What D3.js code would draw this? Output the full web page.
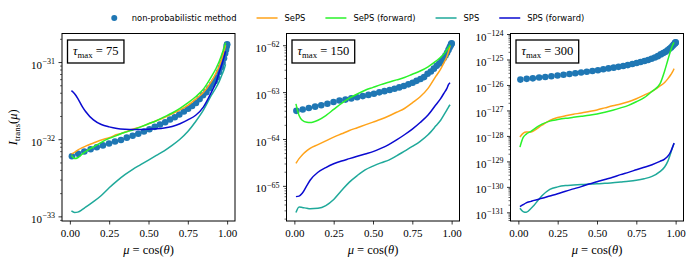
<!DOCTYPE html>
<html>
<head>
<meta charset="utf-8">
<script src="https://cdn.jsdelivr.net/npm/d3@7"></script>
<style>
  body { margin: 0; background: #fff; }
  svg { display: block; }
</style>
</head>
<body>
<div id="app"></div>
<script>
// --- data (log10 of I_trans) ---
const muDots = [0.013,0.053,0.092,0.132,0.171,0.210,0.249,0.287,0.325,0.362,0.399,0.435,0.471,0.506,0.540,0.573,0.606,0.637,0.667,0.696,0.725,0.752,0.777,0.802,0.825,0.847,0.868,0.887,0.905,0.921,0.936,0.949,0.961,0.971,0.980,0.987,0.993,0.997,0.999,1.000];
const muLine = [0.01,0.03,0.05,0.08,0.1,0.15,0.2,0.25,0.3,0.35,0.4,0.45,0.5,0.55,0.6,0.65,0.7,0.75,0.8,0.85,0.9,0.93,0.95,0.97,0.98,0.99];

const tauMax = [75, 150, 300];
const yDomains = [[-33.06, -30.63], [-65.75, -61.75], [-131.34, -123.98]];
const xTicks = [0, 0.25, 0.5, 0.75, 1.0];

// tau = 75
const p1Dots = [-32.22,-32.19,-32.16,-32.13,-32.105,-32.08,-32.055,-32.03,-32.01,-31.98,-31.955,-31.93,-31.90,-31.87,-31.84,-31.81,-31.78,-31.745,-31.715,-31.68,-31.64,-31.605,-31.57,-31.53,-31.48,-31.43,-31.39,-31.34,-31.29,-31.25,-31.20,-31.13,-31.07,-31.01,-30.95,-30.89,-30.84,-30.80,-30.78,-30.77];
const p1SePS  = [-32.19,-32.17,-32.14,-32.11,-32.09,-32.05,-32.01,-31.98,-31.94,-31.91,-31.87,-31.84,-31.80,-31.76,-31.72,-31.67,-31.62,-31.56,-31.48,-31.39,-31.25,-31.14,-31.05,-30.93,-30.86,-30.78];
const p1SePSf = [-32.21,-32.25,-32.24,-32.19,-32.16,-32.10,-32.04,-31.99,-31.95,-31.91,-31.88,-31.84,-31.80,-31.76,-31.71,-31.66,-31.60,-31.53,-31.45,-31.35,-31.19,-31.08,-30.99,-30.88,-30.82,-30.75];
const p1SPS   = [-32.93,-32.95,-32.945,-32.91,-32.88,-32.81,-32.73,-32.63,-32.54,-32.46,-32.39,-32.33,-32.27,-32.21,-32.15,-32.08,-32.00,-31.90,-31.77,-31.62,-31.43,-31.33,-31.25,-31.15,-31.10,-31.03];
const p1SPSf  = [-31.37,-31.41,-31.47,-31.58,-31.64,-31.75,-31.81,-31.84,-31.86,-31.87,-31.875,-31.875,-31.87,-31.865,-31.855,-31.835,-31.80,-31.75,-31.69,-31.58,-31.39,-31.26,-31.13,-31.01,-30.94,-30.86];

// tau = 150
const p2Dots = [-63.40,-63.37,-63.34,-63.31,-63.28,-63.25,-63.21,-63.18,-63.16,-63.135,-63.11,-63.085,-63.06,-63.035,-63.005,-62.98,-62.955,-62.93,-62.90,-62.87,-62.835,-62.80,-62.76,-62.72,-62.68,-62.61,-62.56,-62.50,-62.44,-62.39,-62.34,-62.28,-62.22,-62.16,-62.10,-62.05,-62.01,-61.98,-61.97,-61.96];
const p2SePS  = [-64.52,-64.42,-64.34,-64.25,-64.20,-64.12,-64.04,-63.96,-63.89,-63.82,-63.76,-63.70,-63.64,-63.58,-63.51,-63.43,-63.35,-63.23,-63.10,-62.92,-62.66,-62.51,-62.38,-62.24,-62.14,-62.01];
const p2SePSf = [-63.25,-63.50,-63.60,-63.645,-63.65,-63.60,-63.50,-63.37,-63.24,-63.13,-63.04,-62.96,-62.90,-62.84,-62.79,-62.74,-62.69,-62.62,-62.55,-62.46,-62.34,-62.26,-62.19,-62.10,-62.05,-61.99];
const p2SPS   = [-65.57,-65.45,-65.46,-65.48,-65.49,-65.48,-65.42,-65.29,-65.10,-64.92,-64.78,-64.66,-64.58,-64.51,-64.45,-64.36,-64.26,-64.16,-64.05,-63.91,-63.72,-63.60,-63.49,-63.38,-63.32,-63.27];
const p2SPSf  = [-65.23,-65.22,-65.16,-64.99,-64.88,-64.71,-64.61,-64.53,-64.47,-64.42,-64.37,-64.32,-64.27,-64.20,-64.12,-64.02,-63.91,-63.79,-63.65,-63.49,-63.27,-63.14,-63.03,-62.92,-62.84,-62.80];

// tau = 300
const p3Dots = [-125.79,-125.76,-125.74,-125.71,-125.685,-125.66,-125.63,-125.60,-125.57,-125.54,-125.51,-125.48,-125.45,-125.42,-125.385,-125.35,-125.32,-125.29,-125.255,-125.22,-125.18,-125.14,-125.10,-125.06,-125.02,-124.97,-124.92,-124.87,-124.80,-124.75,-124.70,-124.64,-124.58,-124.53,-124.47,-124.42,-124.38,-124.35,-124.34,-124.33];
const p3SePS  = [-128.04,-127.90,-127.85,-127.85,-127.79,-127.58,-127.39,-127.28,-127.21,-127.15,-127.10,-127.04,-126.98,-126.90,-126.82,-126.75,-126.66,-126.54,-126.40,-126.25,-126.04,-125.90,-125.76,-125.59,-125.49,-125.36];
const p3SePSf = [-128.44,-128.07,-127.93,-127.82,-127.73,-127.54,-127.42,-127.36,-127.31,-127.27,-127.23,-127.19,-127.14,-127.07,-126.99,-126.90,-126.80,-126.66,-126.50,-126.25,-125.96,-125.45,-125.03,-124.62,-124.45,-124.33];
const p3SPS   = [-130.84,-130.97,-131.00,-130.85,-130.72,-130.35,-130.10,-130.00,-129.95,-129.93,-129.91,-129.89,-129.88,-129.86,-129.84,-129.81,-129.78,-129.74,-129.68,-129.59,-129.40,-129.22,-129.00,-128.65,-128.45,-128.30];
const p3SPSf  = [-130.78,-130.70,-130.63,-130.57,-130.53,-130.45,-130.36,-130.27,-130.17,-130.08,-129.99,-129.89,-129.80,-129.71,-129.62,-129.52,-129.43,-129.33,-129.23,-129.13,-129.00,-128.91,-128.80,-128.60,-128.45,-128.28];

const seriesNames = ["SePS", "SePS (forward)", "SPS", "SPS (forward)"];
const seriesColors = ["#ffa31a", "#2af22a", "#1fa99a", "#0a0ad0"];
const dotColor = "#1f77b4";

const panelDots = [p1Dots, p2Dots, p3Dots];
const panelLines = [
  [p1SePS, p1SePSf, p1SPS, p1SPSf],
  [p2SePS, p2SePSf, p2SPS, p2SPSf],
  [p3SePS, p3SePSf, p3SPS, p3SPSf]
];

// --- layout ---
const width = 695, height = 265;
const panelLeft = [62, 286.5, 510.5];
const panelW = 173;
const plotTop = 33.5, plotBottom = 221;
const serif = "Liberation Serif";
const sans = "DejaVu Sans";
const fs = 11, fsSup = 8;        // tick labels
const fl = 12.5, flSub = 8.8;    // axis labels, tau box

const svg = d3.select("#app").append("svg")
  .attr("width", width)
  .attr("height", height)
  .attr("viewBox", `0 0 ${width} ${height}`);

panelDots.forEach((dots, i) => {
  const left = panelLeft[i];
  const x = d3.scaleLinear().domain([-0.05, 1.05]).range([left, left + panelW]);
  const [lo, hi] = yDomains[i];
  const y = d3.scaleLog().domain([Math.pow(10, lo), Math.pow(10, hi)]).range([plotBottom, plotTop]);

  const g = svg.append("g");

  // dots
  g.selectAll("circle.dot")
    .data(muDots.map((m, k) => [m, Math.pow(10, dots[k])]))
    .enter().append("circle")
    .attr("class", "dot")
    .attr("cx", d => x(d[0]))
    .attr("cy", d => y(d[1]))
    .attr("r", 3.3)
    .attr("fill", dotColor);

  // lines
  const line = d3.line()
    .x(d => x(d[0]))
    .y(d => y(d[1]))
    .curve(d3.curveMonotoneX);

  panelLines[i].forEach((vals, s) => {
    g.append("path")
      .datum(muLine.map((m, k) => [m, Math.pow(10, vals[k])]))
      .attr("d", line)
      .attr("fill", "none")
      .attr("stroke", seriesColors[s])
      .attr("stroke-width", 1.5);
  });

  // y ticks (log decades)
  const majors = [], minors = [];
  for (let k = Math.floor(lo); k <= Math.ceil(hi); k++) {
    if (k >= lo - 1e-9 && k <= hi + 1e-9) majors.push(k);
    for (let m = 2; m <= 9; m++) {
      const lm = k + Math.log10(m);
      if (lm >= lo && lm <= hi) minors.push(lm);
    }
  }

  const yAxisMinor = d3.axisLeft(y)
    .tickValues(minors.map(v => Math.pow(10, v)))
    .tickSize(2)
    .tickFormat("");
  const ym = g.append("g").attr("transform", `translate(${left},0)`).call(yAxisMinor);
  ym.select(".domain").remove();
  ym.selectAll("line").attr("stroke", "#000").attr("stroke-width", 0.6);

  const yAxis = d3.axisLeft(y)
    .tickValues(majors.map(v => Math.pow(10, v)))
    .tickSize(3.5)
    .tickPadding(3.5)
    .tickFormat("");
  const ya = g.append("g").attr("transform", `translate(${left},0)`).call(yAxis);
  ya.attr("font-family", serif);
  ya.select(".domain").remove();
  ya.selectAll("line").attr("stroke", "#000").attr("stroke-width", 0.8);
  ya.selectAll(".tick").each(function(d, j) {
    const t = d3.select(this).select("text")
      .style("font-family", serif)
      .attr("font-size", fs)
      .attr("fill", "#000")
      .attr("dy", "0.55em");
    t.append("tspan").text("10");
    t.append("tspan").attr("dy", "-0.6em").attr("dx", 0.5).attr("font-size", fsSup).text("\u2212" + Math.abs(majors[j]));
  });

  // x ticks
  const xAxis = d3.axisBottom(x)
    .tickValues(xTicks)
    .tickSize(3.5)
    .tickPadding(4.5)
    .tickFormat(d3.format(".2f"));
  const xa = g.append("g").attr("transform", `translate(0,${plotBottom})`).call(xAxis);
  xa.attr("font-family", serif);
  xa.select(".domain").remove();
  xa.selectAll("line").attr("stroke", "#000").attr("stroke-width", 0.8);
  xa.selectAll("text")
    .style("font-family", serif)
    .attr("font-size", fs)
    .attr("fill", "#000");

  // frame
  g.append("rect")
    .attr("x", left).attr("y", plotTop)
    .attr("width", panelW).attr("height", plotBottom - plotTop)
    .attr("fill", "none").attr("stroke", "#000").attr("stroke-width", 1);

  // tau box
  const box = g.append("g");
  const bt = box.append("text")
    .attr("x", left + 11).attr("y", plotTop + 21.5)
    .style("font-family", serif).attr("font-size", fl).attr("fill", "#000");
  bt.append("tspan").attr("font-style", "italic").text("\u03c4");
  bt.append("tspan").attr("font-size", flSub).attr("dy", 2.5).text("max");
  bt.append("tspan").attr("dy", -2.5).text(" = " + tauMax[i]);
  const bb = bt.node().getBBox();
  box.insert("rect", "text")
    .attr("x", left + 5.5).attr("y", plotTop + 6.5)
    .attr("width", bb.width + 11).attr("height", 23)
    .attr("fill", "#fff").attr("stroke", "#000").attr("stroke-width", 1.3);

  // x label
  const xl = g.append("text")
    .attr("x", left + panelW / 2).attr("y", 253.5)
    .attr("text-anchor", "middle")
    .style("font-family", serif).attr("font-size", fl).attr("fill", "#000");
  xl.append("tspan").attr("font-style", "italic").text("\u03bc");
  xl.append("tspan").text(" = cos(");
  xl.append("tspan").attr("font-style", "italic").text("\u03b8");
  xl.append("tspan").text(")");
});

// y label
const yl = svg.append("text")
  .attr("transform", `translate(17,${(plotTop + plotBottom) / 2}) rotate(-90)`)
  .attr("text-anchor", "middle")
  .style("font-family", serif).attr("font-size", fl).attr("fill", "#000");
yl.append("tspan").attr("font-style", "italic").text("I");
yl.append("tspan").attr("font-size", flSub).attr("dy", 2.5).text("trans");
yl.append("tspan").attr("dy", -2.5).text("(");
yl.append("tspan").attr("font-style", "italic").text("\u03bc");
yl.append("tspan").text(")");

// legend
const legend = svg.append("g");
let cx = 0;
const legendY = 18;
const items = [{ name: "non-probabilistic method", dot: true, color: dotColor }]
  .concat(seriesNames.map((n, s) => ({ name: n, dot: false, color: seriesColors[s] })));
items.forEach(it => {
  if (it.dot) {
    legend.append("circle").attr("cx", cx + 10.5).attr("cy", legendY).attr("r", 3).attr("fill", it.color);
  } else {
    legend.append("line").attr("x1", cx).attr("x2", cx + 21)
      .attr("y1", legendY).attr("y2", legendY)
      .attr("stroke", it.color).attr("stroke-width", 1.5);
  }
  const t = legend.append("text")
    .attr("x", cx + 28).attr("y", legendY + 3)
    .style("font-family", sans).attr("font-size", 8.4).attr("fill", "#000")
    .text(it.name);
  cx += 28 + t.node().getComputedTextLength() + 20;
});
const legendW = cx - 20;
legend.attr("transform", `translate(${344 - legendW / 2},0)`);
</script>
</body>
</html>
